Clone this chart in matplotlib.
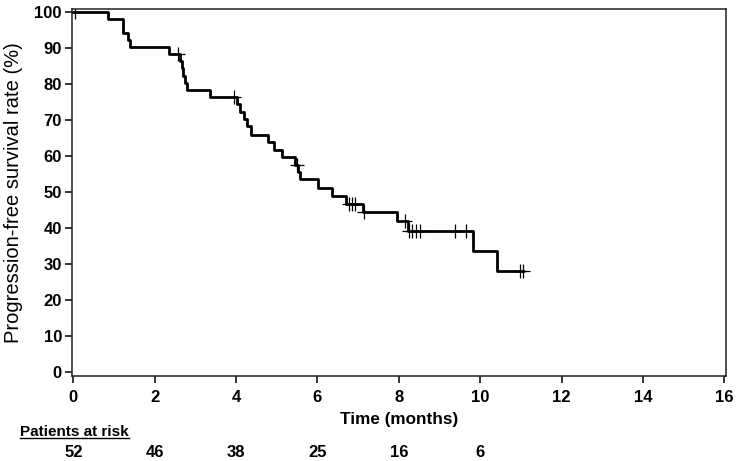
import matplotlib
matplotlib.use("Agg")
import matplotlib.pyplot as plt
from matplotlib.lines import Line2D
import matplotlib.transforms as mtrans

plt.rcParams["font.family"] = ["Liberation Sans", "DejaVu Sans"]

# step times (months) and survival (%) after each step
step_times = [0, 0.85, 1.22, 1.35, 1.40, 2.36, 2.62, 2.66, 2.70, 2.74, 2.80, 3.35,
              4.02, 4.10, 4.19, 4.27, 4.36, 4.78, 4.93, 5.13, 5.45, 5.53, 5.57,
              6.02, 6.36, 6.71, 7.12, 7.96, 8.22, 9.82, 10.40]
step_surv = [100, 98.1, 94.2, 92.3, 90.4, 88.5, 86.5, 84.5, 82.4, 80.4, 78.3, 76.4,
             74.4, 72.4, 70.4, 68.4, 66.0, 64.0, 61.8, 59.7, 57.7, 55.6, 53.6,
             51.3, 49.0, 46.8, 44.5, 41.9, 39.2, 33.6, 28.1]
end_time = 11.05

# censored observations
censor_times = [0.05, 2.58, 3.95, 5.50, 6.77, 6.84, 6.91, 7.14, 8.14,
                8.25, 8.33, 8.43, 8.52, 9.37, 9.66, 10.98, 11.05]

risk_times = [0, 2, 4, 6, 8, 10]
risk_counts = [52, 46, 38, 25, 16, 6]


def surv_at(t):
    s = step_surv[0]
    for st, sv in zip(step_times, step_surv):
        if st <= t:
            s = sv
    return s


def main():
    fig = plt.figure(figsize=(7.36, 4.61), dpi=100)
    ax = fig.add_axes([0.0974, 0.185, 0.8886, 0.7955])

    xs = step_times + [end_time]
    ys = step_surv + [step_surv[-1]]
    ax.step(xs, ys, where="post", color="black", lw=2.0)

    cy = [surv_at(t) for t in censor_times]
    ax.plot(censor_times, cy, ls="none", marker="+", ms=10, mew=0.9, color="black")

    ax.set_xlim(-0.04, 16.03)
    ax.set_ylim(-0.94, 100.9)
    ax.set_xticks(range(0, 17, 2))
    ax.set_yticks(range(0, 101, 10))
    for s in ax.spines.values():
        s.set_linewidth(1.1)
        s.set_color("#222222")
    ax.tick_params(direction="out", length=5, width=1.1, labelsize=12, pad=2)
    ax.tick_params(axis="x", pad=5)
    for lab in ax.get_xticklabels() + ax.get_yticklabels():
        lab.set_fontweight("bold")

    ax.set_ylabel("Progression-free survival rate (%)", fontsize=14.5, labelpad=8)
    ax.set_xlabel("Time (months)", fontsize=12.3, fontweight="bold", labelpad=5)

    # patients at risk table
    trans = mtrans.blended_transform_factory(ax.transData, fig.transFigure)
    title = fig.text(20 / 736, 1 - 432 / 461, "Patients at risk", fontsize=11,
                     fontweight="bold", va="center", ha="left")
    for t, n in zip(risk_times, risk_counts):
        ax.text(t, 1 - 452 / 461, str(n), transform=trans, ha="center", va="center",
                fontsize=12, fontweight="bold")

    fig.canvas.draw()
    bb = title.get_window_extent().transformed(fig.transFigure.inverted())
    fig.add_artist(Line2D([bb.x0, bb.x1], [bb.y0 + 0.002, bb.y0 + 0.002],
                          transform=fig.transFigure, color="black", lw=1))

    fig.savefig("out.png", dpi=100)


if __name__ == "__main__":
    main()
